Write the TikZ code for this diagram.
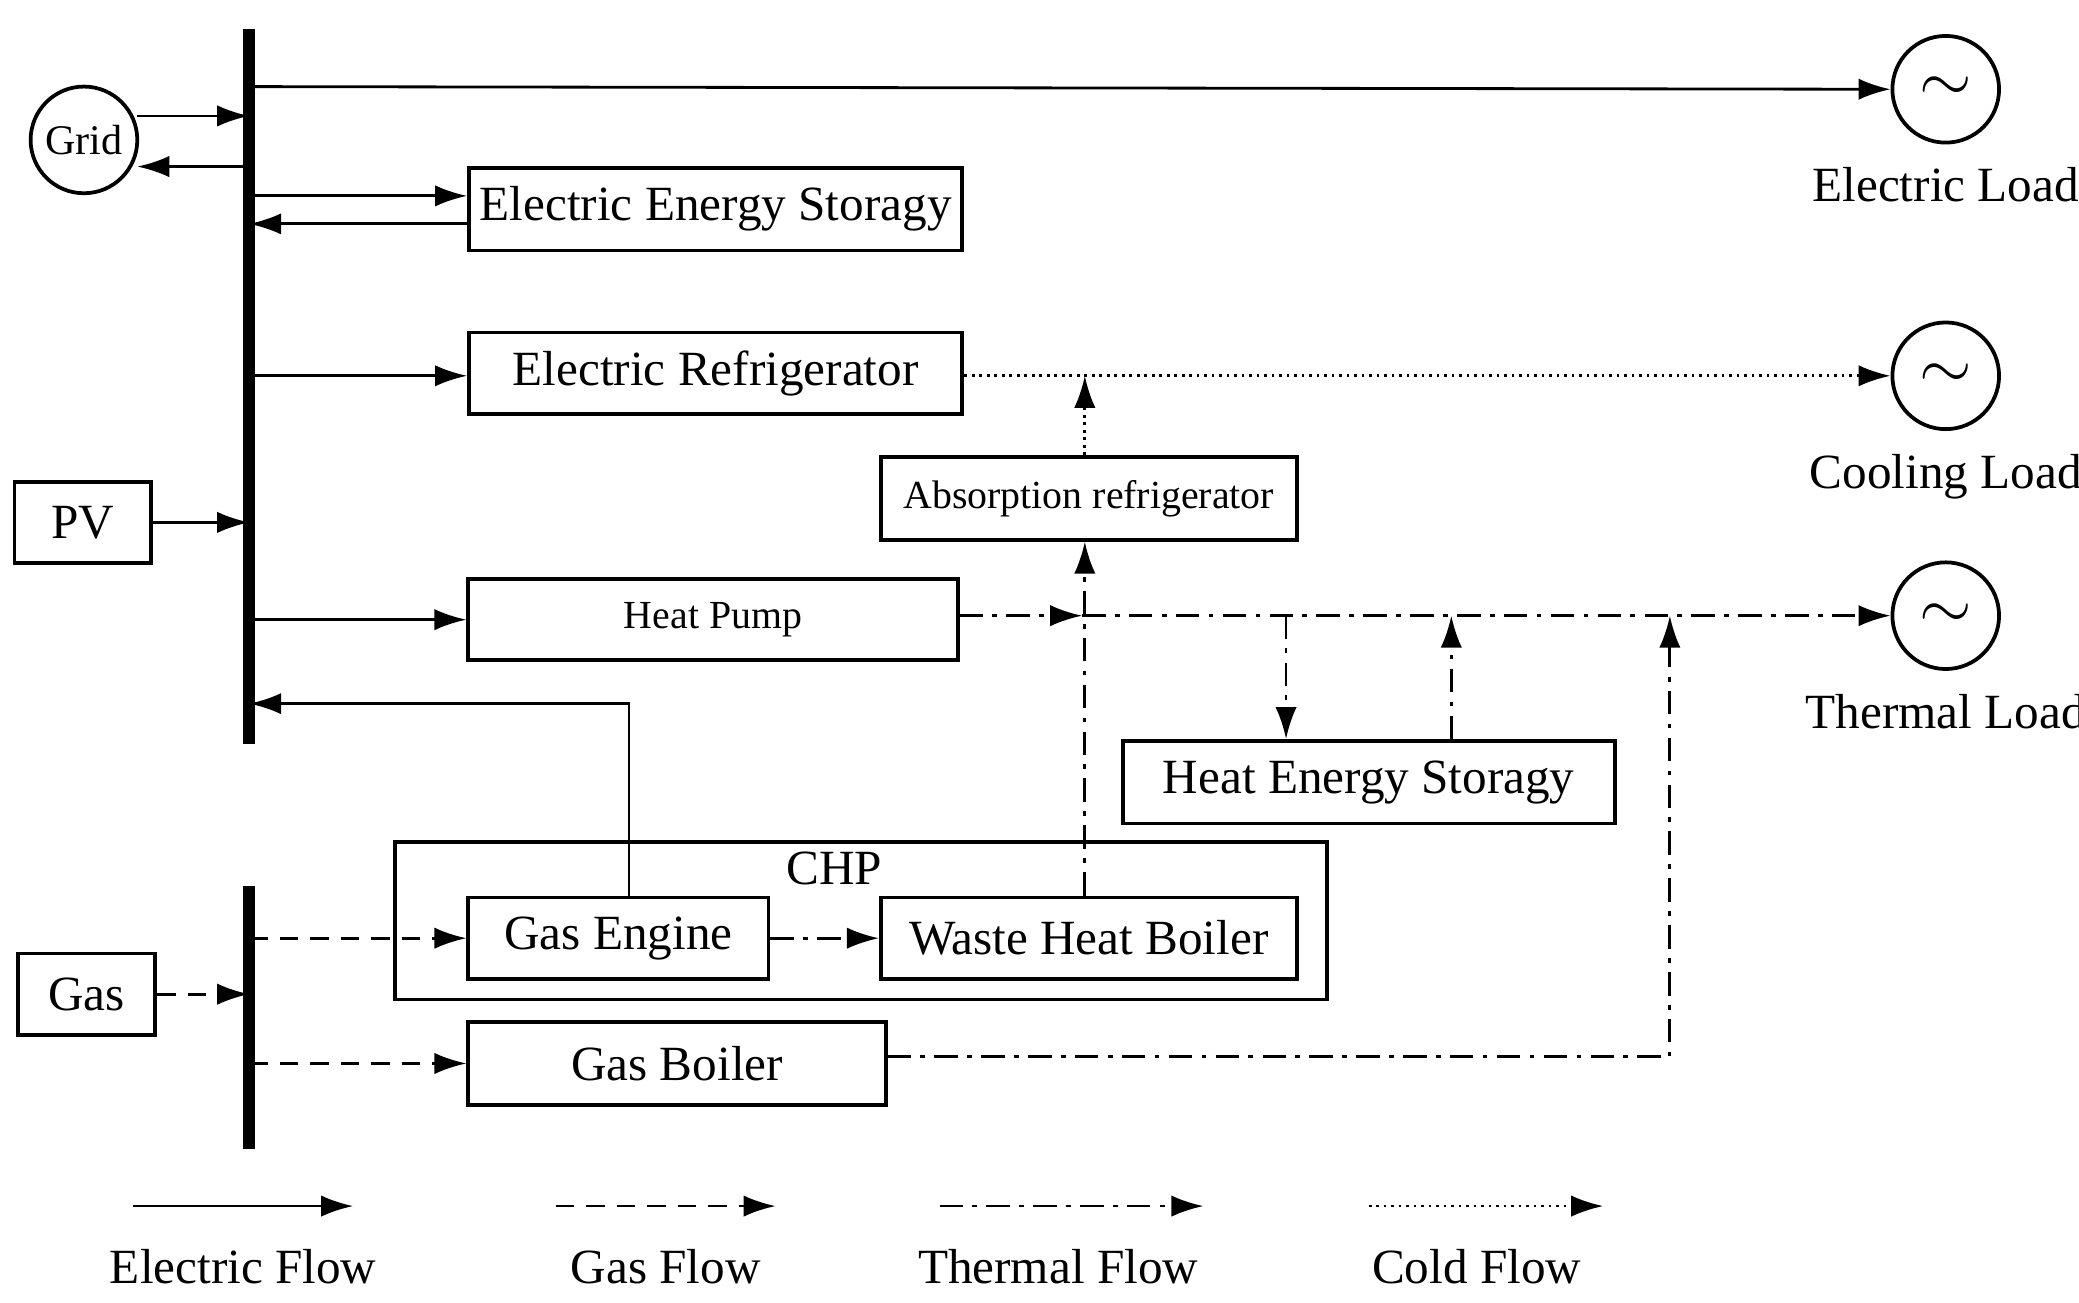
\documentclass[tikz,border=0pt]{standalone}
\usepackage{fontspec}
\setmainfont{Liberation Serif}
\usetikzlibrary{arrows.meta,calc,positioning}
\tikzset{
  box/.style={draw=black,line width=0.8pt,inner sep=0,font=\fontsize{10.5}{12}\selectfont},
  smallbox/.style={box,font=\fontsize{8.5}{10}\selectfont},
  load/.style={draw=black,line width=0.8pt,circle,minimum size=0.8cm,inner sep=0},
  tip/.style={-{Latex[length=2.4mm,width=1.6mm]}},
  elec/.style={tip,line width=0.6pt},
  gas/.style={tip,line width=0.6pt,dash pattern=on 4pt off 2.5pt},
  therm/.style={tip,line width=0.6pt,dash pattern=on 5pt off 2pt on 1pt off 2pt},
  cold/.style={tip,line width=0.6pt,densely dotted},
  bus/.style={line width=2.5pt},
  lbl/.style={font=\fontsize{10.5}{12}\selectfont}
}
\begin{document}
\begin{tikzpicture}[x=0.01cm,y=-0.01cm]
   \useasboundingbox (0,0) rectangle (1560,977);

   % Buses
   \draw[bus] (187,22) coordinate (ebtop) -- (187,558) coordinate (ebbot);
   \draw[bus] (187,665) coordinate (gbtop) -- (187,862) coordinate (gbbot);

   % Sources
   \node[load,minimum size=0.8cm,font=\fontsize{9}{10}\selectfont] (grid) at (63,105) {Grid};
   \node[box,minimum width=1.02cm,minimum height=0.61cm] (pv) at (62,392) {PV};
   \node[box,minimum width=1.03cm,minimum height=0.61cm] (gas) at (65,746) {Gas};

   % Devices
   \node[box,minimum width=3.7cm,minimum height=0.62cm] (ees) at (537,157) {Electric Energy Storagy};
   \node[box,minimum width=3.7cm,minimum height=0.61cm] (er) at (537,280) {Electric Refrigerator};
   \node[smallbox,minimum width=3.12cm,minimum height=0.62cm] (ar) at (817,374) {Absorption refrigerator};
   \node[smallbox,minimum width=3.67cm,minimum height=0.61cm] (hp) at (535,465) {Heat Pump};
   \node[box,minimum width=3.69cm,minimum height=0.62cm] (hes) at (1027,587) {Heat Energy Storagy};
   \node[draw=black,line width=0.8pt,minimum width=6.99cm,minimum height=1.18cm,inner sep=0] (chp) at (646,691) {};
   \node[lbl] at (626,652) {CHP};
   \node[box,minimum width=2.25cm,minimum height=0.61cm] (ge) at (464,704) {Gas Engine};
   \node[box,minimum width=3.12cm,minimum height=0.61cm] (whb) at (817,704) {Waste Heat Boiler};
   \node[box,minimum width=3.13cm,minimum height=0.62cm] (gb) at (508,798) {Gas Boiler};

   % Loads
   \node[load] (el) at (1460,67) {\Large$\sim$};
   \node[load] (cl) at (1460,282) {\Large$\sim$};
   \node[load] (tl) at (1460,462) {\Large$\sim$};
   \node[lbl,below=0.05cm of el] {Electric Load};
   \node[lbl,below=0.05cm of cl] {Cooling Load};
   \node[lbl,below=0.05cm of tl] {Thermal Load};

   % Electric flows
   \draw[elec] (187,65) -- (el.west);
   \draw[elec] (103,87) -- (187,87);
   \draw[elec] (187,125) -- (103,125);
   \draw[elec] (187,147) -- (ees.west |- 0,147);
   \draw[elec] (ees.west |- 0,168) -- (187,168);
   \draw[elec] (187,282) -- (er.west |- 0,282);
   \draw[elec] (pv.east) -- (187,392);
   \draw[elec] (187,465) -- (hp.west);
   \draw[elec] (ge.north -| 472,0) -- (472,528) -- (187,528);

   % Gas flows
   \draw[gas] (gas.east) -- (187,746);
   \draw[gas] (187,704) -- (ge.west);
   \draw[gas] (187,798) -- (gb.west);

   % Thermal flows
   \draw[therm] (ge.east) -- (whb.west);
   \draw[therm] (hp.east |- 0,462) -- (812,462);
   \draw[therm] (812,462) -- (tl.west);
   \draw[therm] (whb.north -| 814,0) -- (ar.south -| 814,0);
   \draw[therm] (965,462) -- (hes.north -| 965,0);
   \draw[therm] (hes.north -| 1089,0) -- (1089,462);
   \draw[therm] (gb.east |- 0,793) -- (1253,793) -- (1253,462);

   % Cold flows
   \draw[cold] (er.east |- 0,282) -- (cl.west);
   \draw[cold] (ar.north -| 814,0) -- (814,282);

   % Legend
   \draw[elec] (100,905) -- node[lbl,below=0.2cm] {Electric Flow} (265,905);
   \draw[gas] (417,905) -- node[lbl,below=0.2cm] {Gas Flow} (582,905);
   \draw[therm] (705,905) -- node[lbl,below=0.2cm,xshift=-0.1cm] {Thermal Flow} (903,905);
   \draw[cold] (1027,905) -- node[lbl,below=0.2cm,xshift=-0.07cm] {Cold Flow} (1203,905);
\end{tikzpicture}
\end{document}
